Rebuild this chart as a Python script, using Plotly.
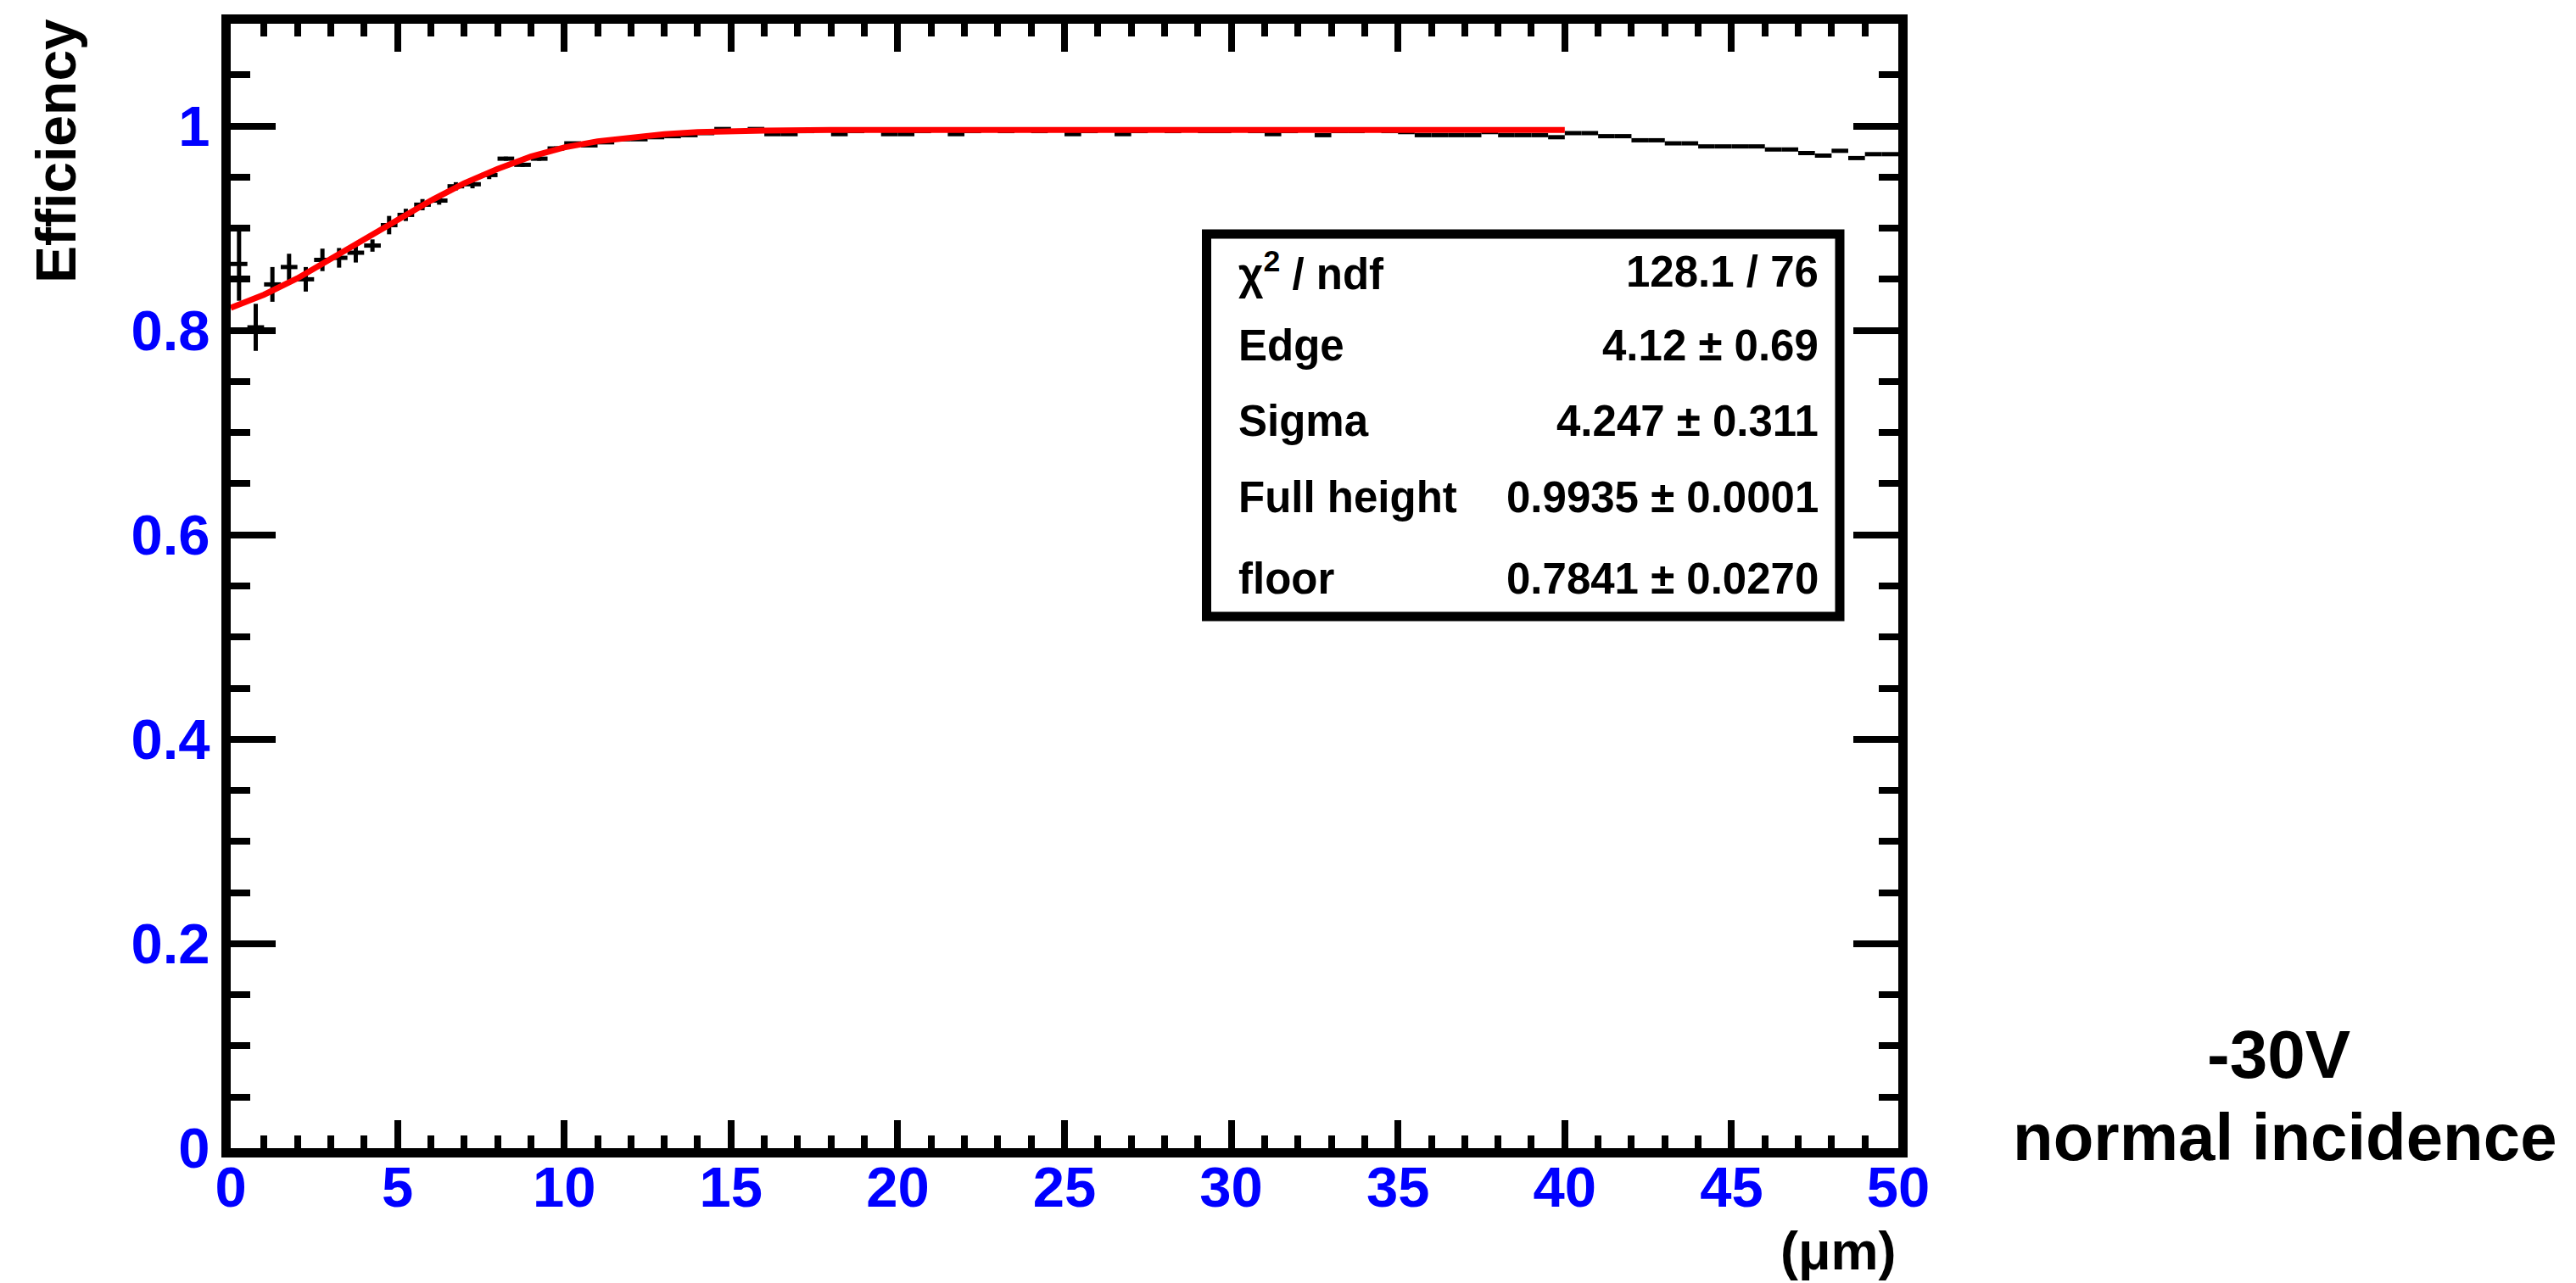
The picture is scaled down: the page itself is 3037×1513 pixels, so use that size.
import plotly.graph_objects as go

# ---------------- data ----------------
bin_width = 0.5
efficiency = [
    0.865, 0.803, 0.845, 0.862, 0.850, 0.869, 0.871, 0.876, 0.883, 0.903,
    0.913, 0.923, 0.927, 0.941, 0.943, 0.952, 0.968, 0.962, 0.968, 0.978,
    0.983, 0.981, 0.984, 0.987, 0.987, 0.989, 0.990, 0.991, 0.993, 0.997,
    0.995, 0.997, 0.992, 0.992, 0.995, 0.996, 0.992, 0.995, 0.996, 0.992,
    0.992, 0.995, 0.996, 0.992, 0.995, 0.996, 0.995, 0.996, 0.995, 0.996,
    0.992, 0.995, 0.996, 0.992, 0.995, 0.996, 0.995, 0.996, 0.995, 0.995,
    0.996, 0.995, 0.992, 0.995, 0.996, 0.991, 0.995, 0.995, 0.996, 0.995,
    0.994, 0.991, 0.991, 0.991, 0.991, 0.994, 0.991, 0.991, 0.991, 0.989,
    0.993, 0.993, 0.990, 0.990, 0.986, 0.986, 0.983, 0.983, 0.980, 0.980,
    0.980, 0.980, 0.977, 0.977, 0.9735, 0.971, 0.9757, 0.9686, 0.9724, 0.9724,
]
efficiency_err = [
    0.036, 0.023, 0.017, 0.013, 0.012, 0.011, 0.0096, 0.0096, 0.006, 0.009,
    0.006, 0.0055, 0.004, 0.004, 0.004, 0.004, 0.002, 0.002, 0.002, 0.002,
] + [0.0012] * 80
bin_centers = [bin_width * (i + 0.5) for i in range(len(efficiency))]
bin_half = [bin_width / 2] * len(efficiency)

fit_x = [0, 1, 2, 3, 4, 5, 6, 7, 8, 9, 10, 11, 12, 13, 14, 15, 16, 18, 20, 25, 30, 35, 40]
fit_y = [0.822, 0.835, 0.851, 0.870, 0.889, 0.909, 0.927, 0.944, 0.958, 0.970,
         0.979, 0.985, 0.989, 0.992, 0.994, 0.995, 0.9955, 0.996, 0.996, 0.996,
         0.996, 0.996, 0.996]

stat_labels = ["χ<sup>2</sup> / ndf", "Edge", "Sigma", "Full height", "floor"]
stat_values = ["128.1 / 76", "4.12 ± 0.69", "4.247 ± 0.311",
               "0.9935 ± 0.0001", "0.7841 ± 0.0270"]

x_title = "(μm)"
y_title = "Efficiency"
side_text = ["-30V", "normal incidence"]

# ---------------- geometry ----------------
W, H = 3037, 1513
L, R, T, B = 272, 2238, 28, 1354   # inner plot area (axis lines drawn outside)


def px(x):
    return (x - L) / (R - L)


def py(y):
    return (B - y) / (B - T)


FONT = "Liberation Sans, Arial, Helvetica, sans-serif"

fig = go.Figure()
fig.add_trace(go.Scatter(
    x=bin_centers, y=efficiency, mode="markers",
    marker=dict(size=1, color="black"),
    error_x=dict(type="data", array=bin_half, symmetric=True,
                 thickness=5, width=0, color="black"),
    error_y=dict(type="data", array=efficiency_err, symmetric=True,
                 thickness=5, width=0, color="black"),
    showlegend=False, hoverinfo="skip",
))
fig.add_trace(go.Scatter(
    x=fit_x, y=fit_y, mode="lines",
    line=dict(color="#ff0000", width=7),
    showlegend=False, hoverinfo="skip",
))

axis_common = dict(
    showline=True, linewidth=11, linecolor="black", mirror="allticks",
    ticks="inside", tickcolor="black", tickwidth=8,
    showgrid=False, zeroline=False,
    tickfont=dict(family=FONT, size=67, color="#0000ff", weight="bold"),
)

fig.update_xaxes(
    range=[0, 50], tick0=0, dtick=5, ticklen=33, ticklabelstandoff=-22,
    minor=dict(ticks="inside", dtick=1, ticklen=15, tickwidth=8,
               tickcolor="black", showgrid=False),
    **axis_common,
)
fig.update_yaxes(
    range=[0, 1.1], tick0=0, dtick=0.2, ticklen=53,
    minor=dict(ticks="inside", dtick=0.05, ticklen=23, tickwidth=8,
               tickcolor="black", showgrid=False),
    **axis_common,
)

shapes = [dict(type="rect", xref="paper", yref="paper",
               x0=px(1422.5), x1=px(2169), y0=py(727), y1=py(276),
               line=dict(color="black", width=11), fillcolor="white",
               layer="above")]

annotations = []
row_centers = [320, 407, 497, 587, 682]
for lab, val, yc in zip(stat_labels, stat_values, row_centers):
    annotations.append(dict(
        text=lab, xref="paper", yref="paper", x=px(1458), y=py(yc),
        xanchor="left", yanchor="middle", showarrow=False,
        font=dict(family=FONT, size=51, color="black", weight="bold")))
    annotations.append(dict(
        text=val, xref="paper", yref="paper", x=px(2146), y=py(yc),
        xanchor="right", yanchor="middle", showarrow=False,
        font=dict(family=FONT, size=51, color="black", weight="bold")))

annotations.append(dict(
    text=y_title, xref="paper", yref="paper", x=px(66), y=py(20),
    xanchor="center", yanchor="top", textangle=-90, showarrow=False,
    font=dict(family=FONT, size=66, color="black", weight="bold")))

annotations.append(dict(
    text=x_title, xref="paper", yref="paper", x=px(2238), y=py(1512),
    xanchor="right", yanchor="bottom", showarrow=False,
    font=dict(family=FONT, size=63, color="black", weight="bold")))

annotations.append(dict(
    text=side_text[0], xref="paper", yref="paper", x=px(2686), y=py(1243),
    xanchor="center", yanchor="middle", showarrow=False,
    font=dict(family=FONT, size=80, color="black", weight="bold")))
annotations.append(dict(
    text=side_text[1], xref="paper", yref="paper", x=px(2694), y=py(1341),
    xanchor="center", yanchor="middle", showarrow=False,
    font=dict(family=FONT, size=78, color="black", weight="bold")))

fig.update_layout(
    width=W, height=H,
    margin=dict(l=L, r=W - R, t=T, b=H - B, pad=0),
    plot_bgcolor="white", paper_bgcolor="white",
    shapes=shapes, annotations=annotations,
    showlegend=False,
)

fig.write_html("out.html", config={"displayModeBar": False},
               post_script="document.body.style.margin='0px';")
